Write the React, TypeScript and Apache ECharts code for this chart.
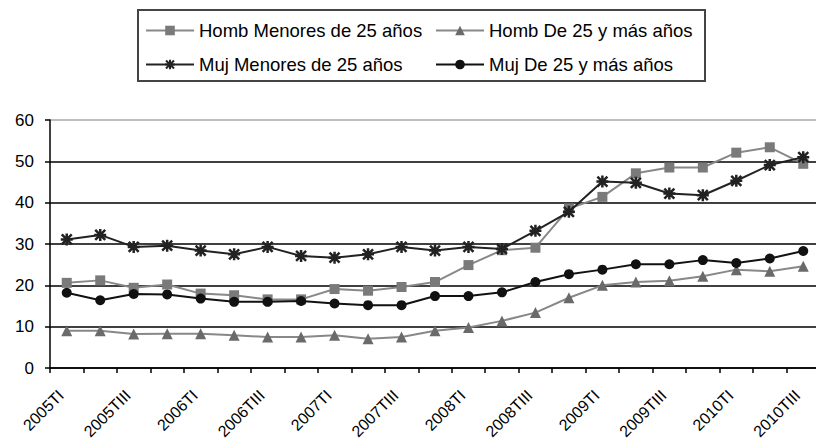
import React, { useEffect, useRef } from "react";
import * as echarts from "echarts";

const categories = [
  "2005TI", "2005TII", "2005TIII", "2005TIV",
  "2006TI", "2006TII", "2006TIII", "2006TIV",
  "2007TI", "2007TII", "2007TIII", "2007TIV",
  "2008TI", "2008TII", "2008TIII", "2008TIV",
  "2009TI", "2009TII", "2009TIII", "2009TIV",
  "2010TI", "2010TII", "2010TIII",
];

const hombMenores = [20.6, 21.2, 19.4, 20.2, 18.0, 17.6, 16.6, 16.6, 19.1, 18.7, 19.6, 20.8, 24.9, 28.5, 29.1, 38.6, 41.4, 47.1, 48.5, 48.5, 52.1, 53.4, 49.4];
const hombMayores = [9.0, 9.0, 8.2, 8.3, 8.3, 7.9, 7.5, 7.5, 7.9, 7.1, 7.5, 9.0, 9.8, 11.4, 13.4, 17.0, 20.0, 20.8, 21.1, 22.2, 23.8, 23.4, 24.6];
const mujMenores = [31.1, 32.2, 29.3, 29.6, 28.4, 27.5, 29.3, 27.1, 26.7, 27.5, 29.3, 28.4, 29.3, 28.8, 33.2, 37.8, 45.1, 44.8, 42.2, 41.8, 45.3, 49.1, 51.0];
const mujMayores = [18.2, 16.4, 17.9, 17.8, 16.8, 16.0, 16.0, 16.2, 15.6, 15.2, 15.2, 17.4, 17.4, 18.3, 20.8, 22.7, 23.8, 25.1, 25.1, 26.1, 25.4, 26.5, 28.3];

const seriesNames = [
  "Homb Menores de 25 años",
  "Homb De 25 y más años",
  "Muj Menores de 25 años",
  "Muj De 25 y más años",
];

const FONT = "'Liberation Sans', Arial, sans-serif";
const STAR = "path://M0,0L10,10M10,0L0,10M5,-1L5,11M-1,5L11,5";

export default function App() {
  const ref = useRef<HTMLDivElement>(null);
  useEffect(() => {
    if (!ref.current) return;
    const chart = echarts.init(ref.current, undefined, { renderer: "svg" });
    const legendBase = {
      padding: 0,
      itemWidth: 48,
      itemHeight: 12,
      textStyle: { fontSize: 18.5, fontFamily: FONT, color: "#000" },
      selectedMode: false,
    };
    chart.setOption({
      animation: false,
      backgroundColor: "#fff",
      textStyle: { fontFamily: FONT },
      legend: [
        { ...legendBase, data: [seriesNames[0]], left: 145, top: 21 },
        { ...legendBase, data: [seriesNames[1]], left: 435, top: 21 },
        { ...legendBase, data: [seriesNames[2]], left: 145, top: 55 },
        { ...legendBase, data: [seriesNames[3]], left: 435, top: 55 },
      ],
      graphic: [
        {
          type: "rect",
          shape: { x: 138, y: 10, width: 567, height: 71 },
          style: { fill: "none", stroke: "#444", lineWidth: 2 },
          z: -1,
        },
      ],
      grid: {
        left: 50,
        right: -4,
        top: 120,
        bottom: 73,
        containLabel: false,
        outerBoundsMode: "none",
      },
      xAxis: {
        type: "category",
        data: categories,
        boundaryGap: true,
        axisLine: { lineStyle: { color: "#000", width: 1.5 } },
        axisTick: { show: true, interval: 0, length: 5, lineStyle: { color: "#000", width: 1.5 } },
        axisLabel: {
          interval: 1,
          rotate: 45,
          fontSize: 16,
          color: "#000",
          fontFamily: FONT,
          margin: 19,
          padding: [0, 8, 0, 0],
        },
      },
      yAxis: {
        type: "value",
        min: 0,
        max: 60,
        interval: 10,
        axisLine: { show: true, lineStyle: { color: "#000", width: 1.5 } },
        axisTick: { show: true, length: 5, lineStyle: { color: "#000", width: 1.5 } },
        axisLabel: { fontSize: 17, color: "#000", fontFamily: FONT, margin: 16 },
        splitLine: {
          show: true,
          lineStyle: {
            color: ["#000", "#000", "#000", "#000", "#000", "#000", "#aaa"],
            width: 1.5,
          },
        },
      },
      series: [
        {
          name: seriesNames[0],
          type: "line",
          data: hombMenores,
          symbol: "rect",
          symbolSize: 10,
          lineStyle: { color: "#888", width: 2 },
          itemStyle: { color: "#7a7a7a" },
          z: 2,
        },
        {
          name: seriesNames[1],
          type: "line",
          data: hombMayores,
          symbol: "triangle",
          symbolSize: 11,
          lineStyle: { color: "#888", width: 2 },
          itemStyle: { color: "#6a6a6a" },
          z: 2,
        },
        {
          name: seriesNames[2],
          type: "line",
          data: mujMenores,
          symbol: STAR,
          symbolSize: 12,
          lineStyle: { color: "#222", width: 2 },
          itemStyle: { color: "#222", borderColor: "#222", borderWidth: 2.5 },
          z: 3,
        },
        {
          name: seriesNames[3],
          type: "line",
          data: mujMayores,
          symbol: "circle",
          symbolSize: 10,
          lineStyle: { color: "#111", width: 2 },
          itemStyle: { color: "#111" },
          z: 3,
        },
      ],
    });
    return () => chart.dispose();
  }, []);
  return (
    <div
      ref={ref}
      style={{ position: "fixed", left: 0, top: 0, width: 816, height: 441, background: "#fff" }}
    />
  );
}
